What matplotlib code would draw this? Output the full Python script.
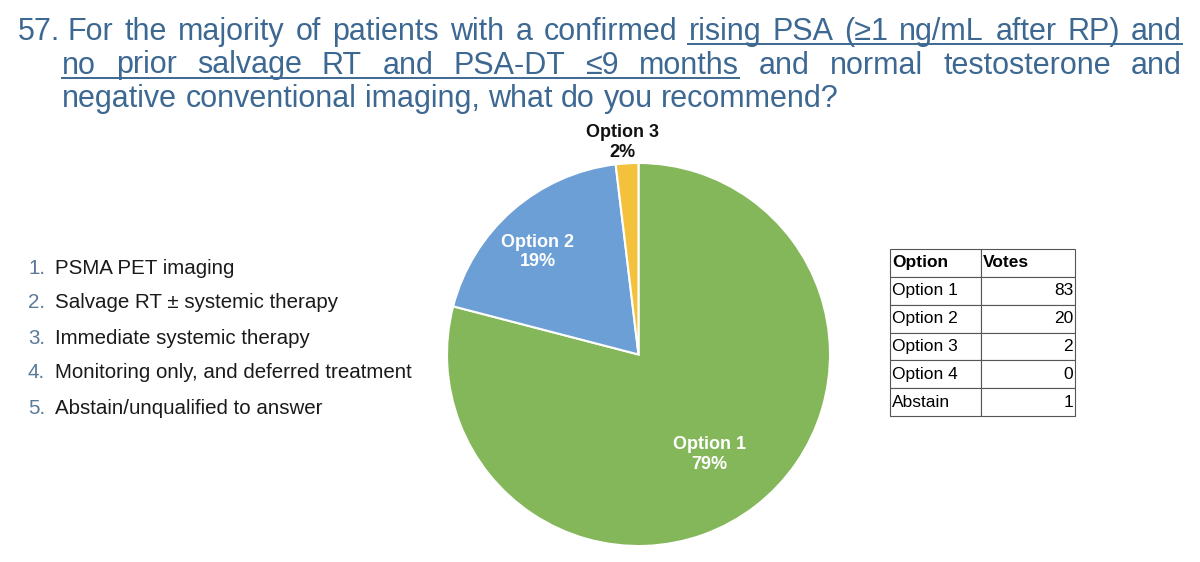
import matplotlib
matplotlib.use("Agg")
import matplotlib.pyplot as plt
import numpy as np

plt.rcParams['font.family'] = ['Liberation Sans', 'DejaVu Sans']

W, H = 1200, 562

# ---- data ----
title_lines = [
    "For the majority of patients with a confirmed rising PSA (≥1 ng/mL after RP) and",
    "no prior salvage RT and PSA-DT ≤9 months and normal testosterone and",
    "negative conventional imaging, what do you recommend?",
]
question_no = "57."
# underlined word ranges per line (start word idx, end word idx inclusive)
underlined = {0: (8, 14), 1: (0, 7)}

answer_options = [
    "PSMA PET imaging",
    "Salvage RT ± systemic therapy",
    "Immediate systemic therapy",
    "Monitoring only, and deferred treatment",
    "Abstain/unqualified to answer",
]

table_options = ["Option 1", "Option 2", "Option 3", "Option 4", "Abstain"]
votes = [83, 20, 2, 0, 1]

pie_labels = ["Option 1", "Option 2", "Option 3"]
pie_votes = votes[:3]
pie_colors = ["#84b65a", "#6c9fd5", "#f3c13c"]

title_color = "#3d6892"
num_color = "#5a7a99"


def px(x, y):
    return x / W, 1 - y / H


fig = plt.figure(figsize=(12, 5.62), dpi=100)
renderer = fig.canvas.get_renderer()

# ---- title, justified ----
fs_title = 22
line_y = [32, 65.5, 99]
line_x0 = [68, 62, 62]
x_right = 1182
fig.text(*px(18, line_y[0]), question_no, fontsize=fs_title, color=title_color, va='center')
for li, line in enumerate(title_lines):
    words = line.split(" ")
    objs = [fig.text(0, 0, w, fontsize=fs_title, color=title_color, va='center') for w in words]
    widths = [o.get_window_extent(renderer).width for o in objs]
    if li < 2:
        gap = (x_right - line_x0[li] - sum(widths)) / (len(words) - 1)
    else:
        sp = fig.text(0, 0, "a a", fontsize=fs_title)
        spa = fig.text(0, 0, "aa", fontsize=fs_title)
        gap = sp.get_window_extent(renderer).width - spa.get_window_extent(renderer).width
        sp.remove(); spa.remove()
    x = line_x0[li]
    starts = []
    for o, w in zip(objs, widths):
        o.set_position(px(x, line_y[li]))
        starts.append(x)
        x += w + gap
    if li in underlined:
        a, b = underlined[li]
        xs = starts[a]
        xe = starts[b] + widths[b]
        uy = line_y[li] + 12
        fig.add_artist(plt.Line2D([xs / W, xe / W], [1 - uy / H, 1 - uy / H],
                                  color=title_color, lw=1.4, transform=fig.transFigure))

# ---- answer list ----
for i, opt in enumerate(answer_options):
    y = 268 + i * 35
    fig.text(*px(28, y), f"{i + 1}.", fontsize=14.8, color=num_color, va='center')
    fig.text(*px(55, y), opt, fontsize=14.8, color="#1a1a1a", va='center')

# ---- pie ----
cx, cy, R = 638.5, 354.5, 191.5
ax = fig.add_axes([(cx - R) / W, (H - cy - R) / H, 2 * R / W, 2 * R / H])
wedges, _ = ax.pie(pie_votes, colors=pie_colors, startangle=90, counterclock=False,
                   radius=1, wedgeprops=dict(edgecolor='white', linewidth=1.5))
ax.set_xlim(-1, 1)
ax.set_ylim(-1, 1)
ax.axis('off')

total = sum(pie_votes)
label_dist = [0.64, 0.75, 1.11]
label_shift = [-2.3, 3.4, 1.0]   # degrees
for w, lab, v, d, s in zip(wedges, pie_labels, pie_votes, label_dist, label_shift):
    ang = np.deg2rad((w.theta1 + w.theta2) / 2 + s)
    inside = d < 1
    ax.text(d * np.cos(ang), d * np.sin(ang), f"{lab}\n{round(100 * v / total)}%",
            ha='center', va='center', fontsize=13, fontweight='bold',
            color='white' if inside else '#111111', linespacing=1.2, clip_on=False)

# ---- votes table ----
tx0, ty0, tx1, ty1 = 890, 249, 1075, 416
tax = fig.add_axes([tx0 / W, (H - ty1) / H, (tx1 - tx0) / W, (ty1 - ty0) / H])
tax.axis('off')
cells = [[o, str(v)] for o, v in zip(table_options, votes)]
tbl = tax.table(cellText=cells, colLabels=["Option", "Votes"], bbox=[0, 0, 1, 1],
                colWidths=[91, 94])
tbl.auto_set_font_size(False)
for (r, c), cell in tbl.get_celld().items():
    cell.set_edgecolor("#555555")
    cell.set_linewidth(0.8)
    cell.get_text().set_fontsize(12.5)
    cell.PAD = 0.02
    if r == 0:
        cell.get_text().set_fontweight('bold')
        cell._loc = 'left'
        cell.get_text().set_ha('left')
    elif c == 1:
        cell._loc = 'right'
        cell.get_text().set_ha('right')
    else:
        cell._loc = 'left'
        cell.get_text().set_ha('left')

fig.savefig("out.png", dpi=100, facecolor='white')
